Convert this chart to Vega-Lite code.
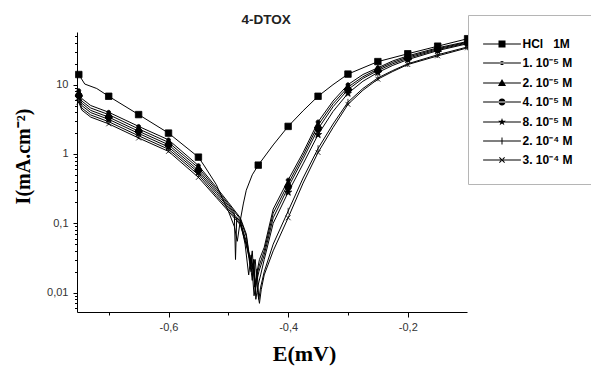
{
"$schema": "https://vega.github.io/schema/vega-lite/v6.json",
"width": 390, "height": 280,
"autosize": {"type": "none"},
"padding": {"left": 77, "top": 32, "right": 124, "bottom": 54},
"background": "white",
"title": {"text": "4-DTOX", "fontSize": 13.5, "fontWeight": "bold", "font": "Liberation Sans", "color": "#222", "offset": 5.6, "baseline": "alphabetic", "dx": -6, "dy": 29},
"config": {
  "view": {"stroke": null},
  "axis": {"domainColor": "black", "tickColor": "black", "labelColor": "#333", "labelFont": "Liberation Sans", "labelFontSize": 11, "grid": false, "titleFont": "Liberation Serif", "titleFontWeight": "bold", "titleFontSize": 21, "titleColor": "black", "tickWidth": 1, "domainWidth": 1}
},
"data": {"values": [
{"s":"HCl\u00a0\u00a0\u00a01M","E":-0.75,"I":14},{"s":"HCl\u00a0\u00a0\u00a01M","E":-0.74,"I":10.2},{"s":"HCl\u00a0\u00a0\u00a01M","E":-0.72,"I":8.8},{"s":"HCl\u00a0\u00a0\u00a01M","E":-0.7,"I":6.8},{"s":"HCl\u00a0\u00a0\u00a01M","E":-0.65,"I":3.7},{"s":"HCl\u00a0\u00a0\u00a01M","E":-0.6,"I":2.0},{"s":"HCl\u00a0\u00a0\u00a01M","E":-0.55,"I":0.9},{"s":"HCl\u00a0\u00a0\u00a01M","E":-0.54,"I":0.67},{"s":"HCl\u00a0\u00a0\u00a01M","E":-0.52,"I":0.36},{"s":"HCl\u00a0\u00a0\u00a01M","E":-0.51,"I":0.23},{"s":"HCl\u00a0\u00a0\u00a01M","E":-0.5,"I":0.15},{"s":"HCl\u00a0\u00a0\u00a01M","E":-0.49,"I":0.09},{"s":"HCl\u00a0\u00a0\u00a01M","E":-0.485,"I":0.055},{"s":"HCl\u00a0\u00a0\u00a01M","E":-0.48,"I":0.11},{"s":"HCl\u00a0\u00a0\u00a01M","E":-0.475,"I":0.19},{"s":"HCl\u00a0\u00a0\u00a01M","E":-0.47,"I":0.3},{"s":"HCl\u00a0\u00a0\u00a01M","E":-0.46,"I":0.5},{"s":"HCl\u00a0\u00a0\u00a01M","E":-0.45,"I":0.69},{"s":"HCl\u00a0\u00a0\u00a01M","E":-0.425,"I":1.35},{"s":"HCl\u00a0\u00a0\u00a01M","E":-0.4,"I":2.5},{"s":"HCl\u00a0\u00a0\u00a01M","E":-0.375,"I":4.2},{"s":"HCl\u00a0\u00a0\u00a01M","E":-0.35,"I":6.8},{"s":"HCl\u00a0\u00a0\u00a01M","E":-0.325,"I":10},{"s":"HCl\u00a0\u00a0\u00a01M","E":-0.3,"I":14.2},{"s":"HCl\u00a0\u00a0\u00a01M","E":-0.25,"I":21.5},{"s":"HCl\u00a0\u00a0\u00a01M","E":-0.2,"I":27.9},{"s":"HCl\u00a0\u00a0\u00a01M","E":-0.15,"I":35.9},{"s":"HCl\u00a0\u00a0\u00a01M","E":-0.1,"I":46},
{"s":"1. 10⁻⁵ M","E":-0.75,"I":8.2},{"s":"1. 10⁻⁵ M","E":-0.745,"I":6.3},{"s":"1. 10⁻⁵ M","E":-0.73,"I":5.0},{"s":"1. 10⁻⁵ M","E":-0.7,"I":4.0},{"s":"1. 10⁻⁵ M","E":-0.65,"I":2.5},{"s":"1. 10⁻⁵ M","E":-0.6,"I":1.6},{"s":"1. 10⁻⁵ M","E":-0.55,"I":0.68},{"s":"1. 10⁻⁵ M","E":-0.52,"I":0.33},{"s":"1. 10⁻⁵ M","E":-0.5,"I":0.2},{"s":"1. 10⁻⁵ M","E":-0.48,"I":0.12},{"s":"1. 10⁻⁵ M","E":-0.47,"I":0.07},{"s":"1. 10⁻⁵ M","E":-0.465,"I":0.035},{"s":"1. 10⁻⁵ M","E":-0.46,"I":0.015},{"s":"1. 10⁻⁵ M","E":-0.457,"I":0.03},{"s":"1. 10⁻⁵ M","E":-0.455,"I":0.01},{"s":"1. 10⁻⁵ M","E":-0.452,"I":0.02},{"s":"1. 10⁻⁵ M","E":-0.448,"I":0.03},{"s":"1. 10⁻⁵ M","E":-0.44,"I":0.045},{"s":"1. 10⁻⁵ M","E":-0.425,"I":0.16},{"s":"1. 10⁻⁵ M","E":-0.4,"I":0.42},{"s":"1. 10⁻⁵ M","E":-0.375,"I":1.05},{"s":"1. 10⁻⁵ M","E":-0.35,"I":2.9},{"s":"1. 10⁻⁵ M","E":-0.325,"I":5.8},{"s":"1. 10⁻⁵ M","E":-0.3,"I":10},{"s":"1. 10⁻⁵ M","E":-0.275,"I":14},{"s":"1. 10⁻⁵ M","E":-0.25,"I":17.5},{"s":"1. 10⁻⁵ M","E":-0.225,"I":22},{"s":"1. 10⁻⁵ M","E":-0.2,"I":26},{"s":"1. 10⁻⁵ M","E":-0.15,"I":34},{"s":"1. 10⁻⁵ M","E":-0.1,"I":42},
{"s":"2. 10⁻⁵ M","E":-0.75,"I":7.5},{"s":"2. 10⁻⁵ M","E":-0.745,"I":5.8},{"s":"2. 10⁻⁵ M","E":-0.73,"I":4.6},{"s":"2. 10⁻⁵ M","E":-0.7,"I":3.7},{"s":"2. 10⁻⁵ M","E":-0.65,"I":2.3},{"s":"2. 10⁻⁵ M","E":-0.6,"I":1.47},{"s":"2. 10⁻⁵ M","E":-0.55,"I":0.63},{"s":"2. 10⁻⁵ M","E":-0.52,"I":0.31},{"s":"2. 10⁻⁵ M","E":-0.5,"I":0.19},{"s":"2. 10⁻⁵ M","E":-0.48,"I":0.115},{"s":"2. 10⁻⁵ M","E":-0.47,"I":0.065},{"s":"2. 10⁻⁵ M","E":-0.463,"I":0.025},{"s":"2. 10⁻⁵ M","E":-0.46,"I":0.04},{"s":"2. 10⁻⁵ M","E":-0.456,"I":0.012},{"s":"2. 10⁻⁵ M","E":-0.452,"I":0.018},{"s":"2. 10⁻⁵ M","E":-0.448,"I":0.025},{"s":"2. 10⁻⁵ M","E":-0.44,"I":0.04},{"s":"2. 10⁻⁵ M","E":-0.425,"I":0.14},{"s":"2. 10⁻⁵ M","E":-0.4,"I":0.37},{"s":"2. 10⁻⁵ M","E":-0.375,"I":0.95},{"s":"2. 10⁻⁵ M","E":-0.35,"I":2.6},{"s":"2. 10⁻⁵ M","E":-0.325,"I":5.3},{"s":"2. 10⁻⁵ M","E":-0.3,"I":9.2},{"s":"2. 10⁻⁵ M","E":-0.275,"I":13},{"s":"2. 10⁻⁵ M","E":-0.25,"I":16.8},{"s":"2. 10⁻⁵ M","E":-0.225,"I":21},{"s":"2. 10⁻⁵ M","E":-0.2,"I":25},{"s":"2. 10⁻⁵ M","E":-0.15,"I":33},{"s":"2. 10⁻⁵ M","E":-0.1,"I":41},
{"s":"4. 10⁻⁵ M","E":-0.75,"I":7.0},{"s":"4. 10⁻⁵ M","E":-0.745,"I":5.4},{"s":"4. 10⁻⁵ M","E":-0.73,"I":4.25},{"s":"4. 10⁻⁵ M","E":-0.7,"I":3.4},{"s":"4. 10⁻⁵ M","E":-0.65,"I":2.13},{"s":"4. 10⁻⁵ M","E":-0.6,"I":1.36},{"s":"4. 10⁻⁵ M","E":-0.55,"I":0.58},{"s":"4. 10⁻⁵ M","E":-0.52,"I":0.29},{"s":"4. 10⁻⁵ M","E":-0.5,"I":0.18},{"s":"4. 10⁻⁵ M","E":-0.49,"I":0.14},{"s":"4. 10⁻⁵ M","E":-0.488,"I":0.03},{"s":"4. 10⁻⁵ M","E":-0.486,"I":0.12},{"s":"4. 10⁻⁵ M","E":-0.48,"I":0.11},{"s":"4. 10⁻⁵ M","E":-0.472,"I":0.05},{"s":"4. 10⁻⁵ M","E":-0.466,"I":0.018},{"s":"4. 10⁻⁵ M","E":-0.462,"I":0.035},{"s":"4. 10⁻⁵ M","E":-0.457,"I":0.009},{"s":"4. 10⁻⁵ M","E":-0.453,"I":0.014},{"s":"4. 10⁻⁵ M","E":-0.449,"I":0.02},{"s":"4. 10⁻⁵ M","E":-0.44,"I":0.035},{"s":"4. 10⁻⁵ M","E":-0.425,"I":0.12},{"s":"4. 10⁻⁵ M","E":-0.4,"I":0.33},{"s":"4. 10⁻⁵ M","E":-0.375,"I":0.85},{"s":"4. 10⁻⁵ M","E":-0.35,"I":2.3},{"s":"4. 10⁻⁵ M","E":-0.325,"I":4.8},{"s":"4. 10⁻⁵ M","E":-0.3,"I":8.5},{"s":"4. 10⁻⁵ M","E":-0.275,"I":12.3},{"s":"4. 10⁻⁵ M","E":-0.25,"I":16},{"s":"4. 10⁻⁵ M","E":-0.225,"I":20},{"s":"4. 10⁻⁵ M","E":-0.2,"I":24},{"s":"4. 10⁻⁵ M","E":-0.15,"I":32},{"s":"4. 10⁻⁵ M","E":-0.1,"I":40},
{"s":"8. 10⁻⁵ M","E":-0.75,"I":6.5},{"s":"8. 10⁻⁵ M","E":-0.745,"I":5.0},{"s":"8. 10⁻⁵ M","E":-0.73,"I":3.95},{"s":"8. 10⁻⁵ M","E":-0.7,"I":3.16},{"s":"8. 10⁻⁵ M","E":-0.65,"I":1.98},{"s":"8. 10⁻⁵ M","E":-0.6,"I":1.26},{"s":"8. 10⁻⁵ M","E":-0.55,"I":0.54},{"s":"8. 10⁻⁵ M","E":-0.52,"I":0.27},{"s":"8. 10⁻⁵ M","E":-0.5,"I":0.17},{"s":"8. 10⁻⁵ M","E":-0.48,"I":0.105},{"s":"8. 10⁻⁵ M","E":-0.47,"I":0.055},{"s":"8. 10⁻⁵ M","E":-0.462,"I":0.02},{"s":"8. 10⁻⁵ M","E":-0.458,"I":0.03},{"s":"8. 10⁻⁵ M","E":-0.454,"I":0.008},{"s":"8. 10⁻⁵ M","E":-0.451,"I":0.012},{"s":"8. 10⁻⁵ M","E":-0.446,"I":0.018},{"s":"8. 10⁻⁵ M","E":-0.44,"I":0.03},{"s":"8. 10⁻⁵ M","E":-0.425,"I":0.1},{"s":"8. 10⁻⁵ M","E":-0.4,"I":0.28},{"s":"8. 10⁻⁵ M","E":-0.375,"I":0.72},{"s":"8. 10⁻⁵ M","E":-0.35,"I":1.9},{"s":"8. 10⁻⁵ M","E":-0.325,"I":4.1},{"s":"8. 10⁻⁵ M","E":-0.3,"I":7.5},{"s":"8. 10⁻⁵ M","E":-0.275,"I":11.2},{"s":"8. 10⁻⁵ M","E":-0.25,"I":15},{"s":"8. 10⁻⁵ M","E":-0.225,"I":19},{"s":"8. 10⁻⁵ M","E":-0.2,"I":23},{"s":"8. 10⁻⁵ M","E":-0.15,"I":31},{"s":"8. 10⁻⁵ M","E":-0.1,"I":39},
{"s":"2. 10⁻⁴ M","E":-0.75,"I":6.0},{"s":"2. 10⁻⁴ M","E":-0.745,"I":4.6},{"s":"2. 10⁻⁴ M","E":-0.73,"I":3.65},{"s":"2. 10⁻⁴ M","E":-0.7,"I":2.92},{"s":"2. 10⁻⁴ M","E":-0.65,"I":1.83},{"s":"2. 10⁻⁴ M","E":-0.6,"I":1.17},{"s":"2. 10⁻⁴ M","E":-0.55,"I":0.5},{"s":"2. 10⁻⁴ M","E":-0.52,"I":0.25},{"s":"2. 10⁻⁴ M","E":-0.5,"I":0.16},{"s":"2. 10⁻⁴ M","E":-0.48,"I":0.1},{"s":"2. 10⁻⁴ M","E":-0.47,"I":0.05},{"s":"2. 10⁻⁴ M","E":-0.46,"I":0.025},{"s":"2. 10⁻⁴ M","E":-0.455,"I":0.013},{"s":"2. 10⁻⁴ M","E":-0.452,"I":0.022},{"s":"2. 10⁻⁴ M","E":-0.449,"I":0.008},{"s":"2. 10⁻⁴ M","E":-0.446,"I":0.012},{"s":"2. 10⁻⁴ M","E":-0.44,"I":0.02},{"s":"2. 10⁻⁴ M","E":-0.425,"I":0.05},{"s":"2. 10⁻⁴ M","E":-0.4,"I":0.15},{"s":"2. 10⁻⁴ M","E":-0.375,"I":0.45},{"s":"2. 10⁻⁴ M","E":-0.35,"I":1.2},{"s":"2. 10⁻⁴ M","E":-0.325,"I":2.7},{"s":"2. 10⁻⁴ M","E":-0.3,"I":5.6},{"s":"2. 10⁻⁴ M","E":-0.275,"I":8.8},{"s":"2. 10⁻⁴ M","E":-0.25,"I":12.5},{"s":"2. 10⁻⁴ M","E":-0.225,"I":16},{"s":"2. 10⁻⁴ M","E":-0.2,"I":20},{"s":"2. 10⁻⁴ M","E":-0.15,"I":27},{"s":"2. 10⁻⁴ M","E":-0.1,"I":35},
{"s":"3. 10⁻⁴ M","E":-0.75,"I":5.6},{"s":"3. 10⁻⁴ M","E":-0.745,"I":4.3},{"s":"3. 10⁻⁴ M","E":-0.73,"I":3.4},{"s":"3. 10⁻⁴ M","E":-0.7,"I":2.72},{"s":"3. 10⁻⁴ M","E":-0.65,"I":1.7},{"s":"3. 10⁻⁴ M","E":-0.6,"I":1.09},{"s":"3. 10⁻⁴ M","E":-0.55,"I":0.46},{"s":"3. 10⁻⁴ M","E":-0.52,"I":0.235},{"s":"3. 10⁻⁴ M","E":-0.5,"I":0.15},{"s":"3. 10⁻⁴ M","E":-0.48,"I":0.095},{"s":"3. 10⁻⁴ M","E":-0.47,"I":0.048},{"s":"3. 10⁻⁴ M","E":-0.46,"I":0.022},{"s":"3. 10⁻⁴ M","E":-0.455,"I":0.03},{"s":"3. 10⁻⁴ M","E":-0.451,"I":0.01},{"s":"3. 10⁻⁴ M","E":-0.448,"I":0.007},{"s":"3. 10⁻⁴ M","E":-0.445,"I":0.011},{"s":"3. 10⁻⁴ M","E":-0.44,"I":0.018},{"s":"3. 10⁻⁴ M","E":-0.425,"I":0.04},{"s":"3. 10⁻⁴ M","E":-0.4,"I":0.12},{"s":"3. 10⁻⁴ M","E":-0.375,"I":0.38},{"s":"3. 10⁻⁴ M","E":-0.35,"I":1.05},{"s":"3. 10⁻⁴ M","E":-0.325,"I":2.4},{"s":"3. 10⁻⁴ M","E":-0.3,"I":5.2},{"s":"3. 10⁻⁴ M","E":-0.275,"I":8.3},{"s":"3. 10⁻⁴ M","E":-0.25,"I":12},{"s":"3. 10⁻⁴ M","E":-0.225,"I":15.5},{"s":"3. 10⁻⁴ M","E":-0.2,"I":19.5},{"s":"3. 10⁻⁴ M","E":-0.15,"I":26},{"s":"3. 10⁻⁴ M","E":-0.1,"I":34}
]},
"resolve": {"scale": {"shape": "independent"}, "axis": {"x": "independent", "y": "independent"}},
"layer": [
  {
    "mark": {"type": "line", "color": "black", "strokeWidth": 1},
    "encoding": {
      "x": {"field": "E", "type": "quantitative", "scale": {"domain": [-0.753, -0.101], "nice": false, "zero": false},
        "axis": {"orient": "bottom", "values": [-0.6, -0.4, -0.2], "labelExpr": "replace(toString(datum.value), '.', ',')", "tickSize": 5, "labelPadding": 4, "title": "E(mV)", "titleX": 227, "titleY": 48.5, "titleFontSize": 22, "titleBaseline": "alphabetic", "labelFlush": false}},
      "y": {"field": "I", "type": "quantitative", "scale": {"type": "log", "domain": [0.00525, 57.5], "nice": false},
        "axis": {"orient": "left", "values": [0.01, 0.1, 1, 10], "labelExpr": "replace(toString(datum.value), '.', ',')", "tickSize": 4, "labelPadding": 5, "title": "I(mA.cm⁻²)", "titleX": -48, "titleY": 124, "titleFontSize": 20, "titleBaseline": "alphabetic", "titleAngle": 270, "labelFlush": false}},
      "detail": {"field": "s", "type": "nominal"}
    }
  },
  {
    "transform": [{"filter": {"field": "E", "oneOf": [-0.75, -0.7, -0.65, -0.6, -0.55, -0.45, -0.4, -0.35, -0.3, -0.25, -0.2, -0.15, -0.1]}}],
    "mark": {"type": "point", "filled": true, "fill": "black", "stroke": "black", "strokeWidth": 0.8, "size": 42, "opacity": 1},
    "encoding": {
      "x": {"field": "E", "type": "quantitative", "axis": {"orient": "bottom", "values": [-0.7, -0.5, -0.3], "labels": false, "tickSize": 3, "domain": false, "title": null}},
      "y": {"field": "I", "type": "quantitative", "axis": {"orient": "left", "values": [0.006, 0.007, 0.008, 0.009, 0.02, 0.03, 0.04, 0.05, 0.06, 0.07, 0.08, 0.09, 0.2, 0.3, 0.4, 0.5, 0.6, 0.7, 0.8, 0.9, 2, 3, 4, 5, 6, 7, 8, 9, 20, 30, 40, 50], "labels": false, "tickSize": 2.5, "domain": false, "title": null}},
      "shape": {"field": "s", "type": "nominal", "legend": null,
        "scale": {"domain": ["HCl\u00a0\u00a0\u00a01M", "1. 10⁻⁵ M", "2. 10⁻⁵ M", "4. 10⁻⁵ M", "8. 10⁻⁵ M", "2. 10⁻⁴ M", "3. 10⁻⁴ M"],
          "range": ["M-1,-1H1V1H-1Z", "M-0.6,0A0.6,0.6 0 1,0 0.6,0A0.6,0.6 0 1,0 -0.6,0Z", "M0,-1.15L1.15,0.85H-1.15Z", "M-1,0A1,1 0 1,0 1,0A1,1 0 1,0 -1,0Z", "M0,-1.15L0.27,-0.37L1.1,-0.36L0.44,0.14L0.68,0.93L0,0.46L-0.68,0.93L-0.44,0.14L-1.1,-0.36L-0.27,-0.37Z", "M0,-1V1", "M-0.75,-0.75L0.75,0.75M-0.75,0.75L0.75,-0.75"]}}
    }
  },
  {
    "transform": [{"filter": {"field": "E", "oneOf": [-0.75]}}],
    "mark": {"type": "point", "filled": true, "fill": "black", "stroke": "black", "strokeWidth": 1, "opacity": 0},
    "encoding": {
      "x": {"field": "E", "type": "quantitative", "axis": null},
      "y": {"field": "I", "type": "quantitative", "axis": null},
      "shape": {"field": "s", "type": "nominal",
        "scale": {"domain": ["HCl\u00a0\u00a0\u00a01M", "1. 10⁻⁵ M", "2. 10⁻⁵ M", "4. 10⁻⁵ M", "8. 10⁻⁵ M", "2. 10⁻⁴ M", "3. 10⁻⁴ M"],
          "range": [
            "M-5.4,-0.14H5.4V0.14H-5.4ZM-1,-1H1V1H-1Z",
            "M-5.4,-0.14H5.4V0.14H-5.4ZM-0.6,0A0.6,0.6 0 1,0 0.6,0A0.6,0.6 0 1,0 -0.6,0Z",
            "M-5.4,-0.14H5.4V0.14H-5.4ZM0,-1.15L1.15,0.85H-1.15Z",
            "M-5.4,-0.14H5.4V0.14H-5.4ZM-1,0A1,1 0 1,0 1,0A1,1 0 1,0 -1,0Z",
            "M-5.4,-0.14H5.4V0.14H-5.4ZM0,-1.15L0.27,-0.37L1.1,-0.36L0.44,0.14L0.68,0.93L0,0.46L-0.68,0.93L-0.44,0.14L-1.1,-0.36L-0.27,-0.37Z",
            "M-5.4,-0.14H5.4V0.14H-5.4ZM-0.14,-1H0.14V1H-0.14Z",
            "M-5.4,-0.14H5.4V0.14H-5.4ZM-0.65,-0.85L0.85,0.65L0.65,0.85L-0.85,-0.65ZM-0.65,0.85L0.85,-0.65L0.65,-0.85L-0.85,0.65Z"]},
        "legend": {"orient": "none", "legendX": 391, "legendY": -17, "title": " ", "titleFontSize": 4, "titlePadding": 1, "padding": 18, "strokeColor": "#b5b5b5", "fillColor": "white", "symbolSize": 49, "symbolFillColor": "black", "symbolStrokeColor": "black", "symbolStrokeWidth": 1, "symbolOpacity": 1, "labelFont": "Liberation Sans", "labelFontSize": 12, "labelFontWeight": "bold", "labelColor": "black", "labelOffset": 14.5, "rowPadding": 7, "symbolOffset": 10}}
    }
  }
]
}
